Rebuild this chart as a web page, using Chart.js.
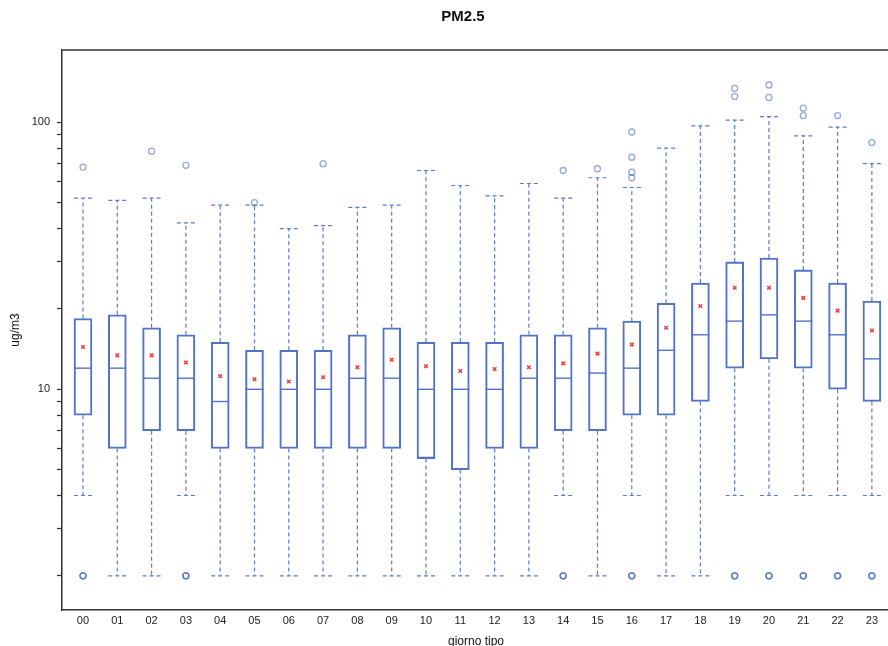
<!DOCTYPE html>
<html>
<head>
<meta charset="utf-8">
<title>PM2.5</title>
<script src="https://cdn.jsdelivr.net/npm/chart.js"></script>
<style>
  body { margin: 0; background: #fff; }
  #wrap { width: 888px; height: 646px; }
</style>
</head>
<body>
<div id="wrap"><canvas id="boxChart"></canvas></div>
<script>
// hours of the typical day
var hours = ["00","01","02","03","04","05","06","07","08","09","10","11",
             "12","13","14","15","16","17","18","19","20","21","22","23"];

// box plot stats, ug/m3
var whiskerLow  = [4, 2, 2, 4, 2, 2, 2, 2, 2, 2, 2, 2, 2, 2, 4, 2, 4, 2, 2, 4, 4, 4, 4, 4];
var q1          = [8, 6, 7, 7, 6, 6, 6, 6, 6, 6, 5.5, 5, 6, 6, 7, 7, 8, 8, 9, 12, 13, 12, 10, 9];
var medians     = [12, 12, 11, 11, 9, 10, 10, 10, 11, 11, 10, 10, 10, 11, 11, 11.5, 12, 14, 16, 18, 19, 18, 16, 13];
var q3          = [18.4, 19, 17, 16, 15, 14, 14, 14, 16, 17, 15, 15, 15, 16, 16, 17, 18, 21, 25, 30, 31, 28, 25, 21.4];
var whiskerHigh = [52, 51, 52, 42, 49, 49, 40, 41, 48, 49, 66, 58, 53, 59, 52, 62, 57, 80, 97, 102, 105, 89, 96, 70];
var means       = [14.4, 13.4, 13.4, 12.6, 11.2, 10.9, 10.7, 11.1, 12.1, 12.9, 12.2, 11.7,
                   11.9, 12.1, 12.5, 13.6, 14.7, 17, 20.5, 24, 24, 22, 19.7, 16.6];
var outliers = [
  [68, 2, 2, 2], [], [78], [69, 2, 2, 2], [], [50], [], [70], [], [], [], [],
  [], [], [66, 2, 2, 2], [67], [92, 74, 65, 62, 2, 2, 2], [], [],
  [134, 125, 2, 2, 2], [138, 124, 2, 2, 2], [113, 106, 2, 2, 2], [106, 2, 2, 2], [84, 2, 2, 2]
];

var yTicks = [2,3,4,5,6,7,8,9,10,20,30,40,50,60,70,80,90,100];
var yLabels = [10, 100];

var boxColor = '#5274c8';
var whiskerColor = '#5a7bd0';

var boxData = hours.map(function (h, i) { return {x: i, y: [q1[i], q3[i]]}; });
var medianData = hours.map(function (h, i) { return {x: i, y: medians[i]}; });
var meanData = hours.map(function (h, i) { return {x: i, y: means[i]}; });
var outlierData = [];
outliers.forEach(function (list, i) {
  list.forEach(function (v) { outlierData.push({x: i, y: v}); });
});

// whiskers, caps, top frame line, main title and x title
var boxExtras = {
  id: 'boxExtras',
  beforeDatasetsDraw: function (chart) {
    var ctx = chart.ctx, xs = chart.scales.x, ys = chart.scales.y;
    ctx.save();
    ctx.strokeStyle = whiskerColor;
    ctx.lineWidth = 1.2;
    ctx.setLineDash([4, 3]);
    hours.forEach(function (h, i) {
      var px = xs.getPixelForValue(i);
      var segs = [[q3[i], whiskerHigh[i]], [q1[i], whiskerLow[i]]];
      segs.forEach(function (s) {
        var yA = ys.getPixelForValue(s[0]), yB = ys.getPixelForValue(s[1]);
        ctx.beginPath();
        ctx.moveTo(px, yA);
        ctx.lineTo(px, yB);
        ctx.stroke();
        ctx.beginPath();
        ctx.moveTo(px - 9, yB);
        ctx.lineTo(px + 9, yB);
        ctx.stroke();
      });
    });
    ctx.restore();
  },
  afterDraw: function (chart) {
    var ctx = chart.ctx, a = chart.chartArea;
    ctx.save();
    ctx.strokeStyle = '#333';
    ctx.lineWidth = 1.5;
    ctx.beginPath();
    ctx.moveTo(a.left, a.top);
    ctx.lineTo(a.right, a.top);
    ctx.stroke();
    ctx.fillStyle = '#111';
    ctx.textAlign = 'center';
    ctx.textBaseline = 'middle';
    ctx.font = 'bold 15px "Liberation Sans", Arial, sans-serif';
    ctx.fillText('PM2.5', 463, 17);
    ctx.font = '12px "Liberation Sans", Arial, sans-serif';
    ctx.fillText('giorno tipo', 476, 642);
    ctx.restore();
  }
};

var ctxB = document.getElementById("boxChart").getContext('2d');
var myBoxChart = new Chart(ctxB, {
  type: 'bar',
  data: {
    datasets: [
      {
        label: 'box',
        data: boxData,
        backgroundColor: 'rgba(255,255,255,0)',
        borderColor: boxColor,
        borderWidth: 1.4,
        borderSkipped: false,
        barThickness: 18
      },
      {
        type: 'line',
        label: 'median',
        data: medianData,
        showLine: false,
        pointStyle: 'line',
        pointRadius: 9,
        pointBorderColor: boxColor,
        pointBorderWidth: 1.4
      },
      {
        type: 'line',
        label: 'mean',
        data: meanData,
        showLine: false,
        pointStyle: 'crossRot',
        pointRadius: 2.5,
        pointBorderColor: '#f03c3c',
        pointBorderWidth: 1.5
      },
      {
        type: 'line',
        label: 'outliers',
        data: outlierData,
        showLine: false,
        pointStyle: 'circle',
        pointRadius: 3,
        pointBackgroundColor: 'rgba(0,0,0,0)',
        pointBorderColor: 'rgba(80,110,200,0.6)',
        pointBorderWidth: 1.3
      }
    ]
  },
  options: {
    responsive: true,
    maintainAspectRatio: false,
    animation: false,
    layout: { autoPadding: false, padding: { top: 50, left: 0, right: 0, bottom: 0 } },
    plugins: {
      legend: { display: false },
      tooltip: { enabled: false }
    },
    scales: {
      x: {
        type: 'linear',
        offset: false,
        min: -0.612,
        max: 23.47,
        afterBuildTicks: function (scale) {
          scale.ticks = hours.map(function (h, i) { return {value: i}; });
        },
        afterFit: function (scale) {
          scale.height = 36;
          scale.paddingLeft = 0;
          scale.paddingRight = 0;
        },
        ticks: {
          autoSkip: false,
          maxRotation: 0,
          padding: 4,
          color: '#222',
          font: { family: '"Liberation Sans", Arial, sans-serif', size: 11 },
          callback: function (v) { return hours[v]; }
        },
        grid: { display: false, drawTicks: false },
        border: { display: true, color: '#333', width: 1.5 }
      },
      y: {
        type: 'logarithmic',
        min: 1.49,
        max: 186.6,
        afterBuildTicks: function (scale) {
          scale.ticks = yTicks.map(function (v) { return {value: v}; });
        },
        afterFit: function (scale) {
          scale.width = 62;
          scale.paddingTop = 0;
          scale.paddingBottom = 0;
        },
        ticks: {
          autoSkip: false,
          padding: 7,
          color: '#222',
          font: { family: '"Liberation Sans", Arial, sans-serif', size: 11 },
          callback: function (v) { return yLabels.indexOf(v) >= 0 ? String(v) : ''; }
        },
        grid: { drawOnChartArea: false, drawTicks: true, tickLength: 5, tickColor: '#333', tickWidth: 1.2 },
        border: { display: true, color: '#333', width: 1.5 },
        title: {
          display: true,
          text: 'ug/m3',
          color: '#111',
          padding: { top: 8, bottom: 0 },
          font: { family: '"Liberation Sans", Arial, sans-serif', size: 12 }
        }
      }
    }
  },
  plugins: [boxExtras]
});
</script>
</body>
</html>
